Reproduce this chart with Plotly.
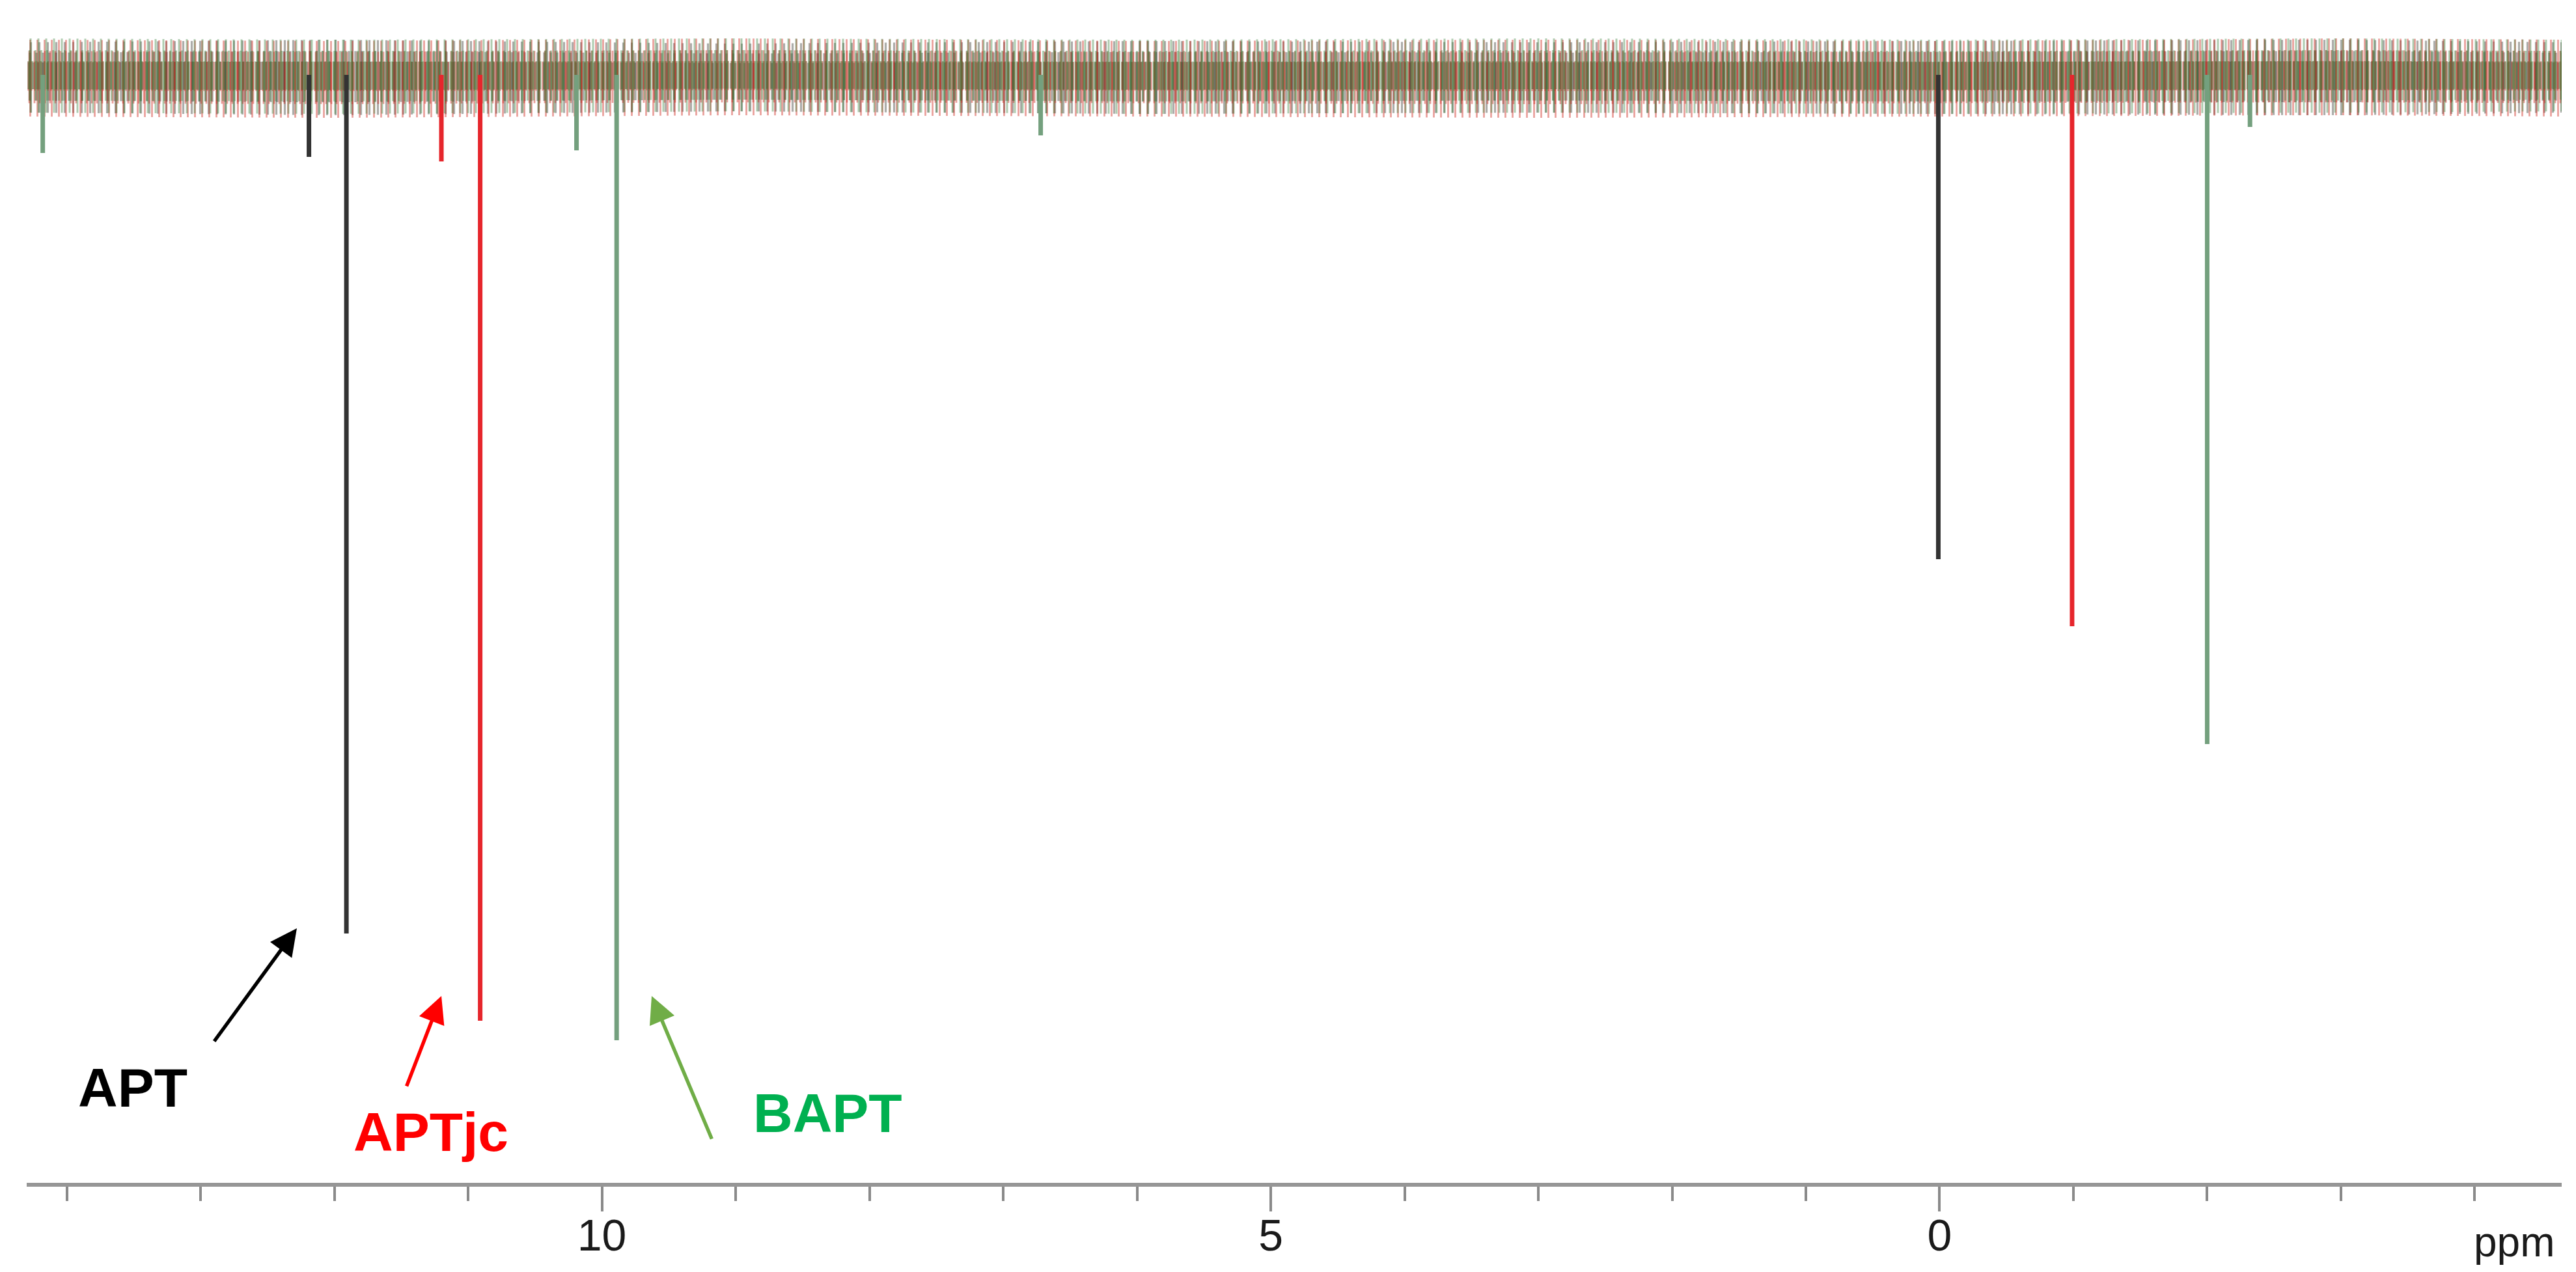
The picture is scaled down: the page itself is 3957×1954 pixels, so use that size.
import plotly.graph_objects as go

# ---------------- data ----------------
# x axis: chemical shift (ppm), drawn reversed
x_range = [14.30, -4.65]
major_tickvals = [10, 5, 0]
major_ticktext = ["10", "5", "0"]

# peaks of each spectrum: positions (ppm) and intensities (a.u., negative = down)
apt_ppm = [12.19, 11.91, 0.01]
apt_int = [-126, -1319, -744]

aptjc_ppm = [11.20, 10.91, -0.99]
aptjc_int = [-133, -1453, -847]

bapt_ppm = [14.18, 10.19, 9.89, 6.72, -2.00, -2.32]
bapt_int = [-120, -116, -1483, -93, -1028, -80]

# baseline-noise envelopes (ppm grid, upper / lower intensity) for each spectrum
noise_ppm = [14.30, 12.0, 9.0, 6.0, 3.0, 0.0, -3.0, -4.65]
apt_noise_hi = [50, 54, 48, 52, 50, 52, 54, 50]
apt_noise_lo = [-58, -62, -56, -60, -58, -60, -62, -58]
aptjc_noise_hi = [54, 52, 56, 52, 54, 52, 56, 54]
aptjc_noise_lo = [-64, -66, -62, -64, -66, -64, -62, -64]
bapt_noise_hi = [56, 54, 56, 54, 56, 54, 56, 54]
bapt_noise_lo = [-58, -60, -56, -60, -58, -60, -58, -56]

# ---------------- pixel calibration helpers (layout only) ----------------
W, H = 3957, 1954
PL, PR, PT, PB = 33, 30, 0, 145          # plot-area margins
plot_w = W - PL - PR
plot_h = H - PT - PB


def xpaper(px):
    return (px - PL) / plot_w


def ypaper(py):
    return (H - PB - py) / plot_h


fig = go.Figure()

series = [
    ("APT", apt_ppm, apt_int, apt_noise_hi, apt_noise_lo,
     "rgba(20,20,10,0.70)", "#333333", 9),
    ("APTjc", aptjc_ppm, aptjc_int, aptjc_noise_hi, aptjc_noise_lo,
     "rgba(205,30,20,0.85)", "#e6262c", 7),
    ("BAPT", bapt_ppm, bapt_int, bapt_noise_hi, bapt_noise_lo,
     "rgba(55,130,60,0.80)", "#74a07e", 8),
]

# noise bands: vertical-stripe texture between the envelopes, three layers
layers = [(1.00, 4, 0.25), (0.68, 1, 0.35), (0.38, -2, 0.50)]
for name, pp, ii, hi, lo, ncol, pcol, psize in series:
    for frac, dsize, sol in layers:
        up = [h * frac for h in hi]
        dn = [l * frac for l in lo]
        fig.add_trace(go.Scatter(
            x=noise_ppm + noise_ppm[::-1],
            y=up + dn[::-1],
            mode="lines", line=dict(width=0), fill="toself",
            fillcolor="rgba(0,0,0,0)",
            fillpattern=dict(shape="|", size=psize + dsize, solidity=sol,
                             fgcolor=ncol, bgcolor="rgba(0,0,0,0)"),
            hoverinfo="skip", showlegend=False))

# peaks
for name, pp, ii, hi, lo, ncol, pcol, psize in series:
    xs, ys = [], []
    for p, v in zip(pp, ii):
        xs += [p, p, None]
        ys += [0, v, None]
    fig.add_trace(go.Scatter(x=xs, y=ys, mode="lines", name=name,
                             line=dict(color=pcol, width=7),
                             showlegend=False))

# ---------------- annotations ----------------
font_fam = "Liberation Sans, Arial, sans-serif"
labels = [
    ("APT", 196, 1663, "#000000"),
    ("APTjc", 654, 1731, "#ff0000"),
    ("BAPT", 1263, 1702, "#00b050"),
]
for txt, cx, cy, col in labels:
    fig.add_annotation(x=xpaper(cx), y=ypaper(cy), xref="paper", yref="paper",
                       text=txt, showarrow=False, xanchor="center",
                       yanchor="middle",
                       font=dict(family=font_fam, size=84, color=col,
                                 weight="bold"))

arrows = [
    ((448, 1418), (320, 1593), "#000000"),
    ((670, 1522), (616, 1662), "#ff0000"),
    ((993, 1522), (1086, 1743), "#70ad47"),
]
for (tx, ty), (sx, sy), col in arrows:
    fig.add_annotation(x=xpaper(tx), y=ypaper(ty), xref="paper", yref="paper",
                       ax=sx - tx, ay=sy - ty, axref="pixel", ayref="pixel",
                       text="", showarrow=True, arrowhead=2, arrowsize=1.5,
                       arrowwidth=5.5, arrowcolor=col, standoff=0)

fig.add_annotation(x=xpaper(3854), y=ypaper(1862), xref="paper", yref="paper",
                   text="ppm", showarrow=False, xanchor="center",
                   yanchor="top",
                   font=dict(family=font_fam, size=64, color="#1a1a1a"))

fig.update_layout(
    width=W, height=H,
    margin=dict(l=PL, r=PR, t=PT, b=PB, pad=0),
    paper_bgcolor="white", plot_bgcolor="white",
    showlegend=False,
    xaxis=dict(range=x_range, showgrid=False, zeroline=False,
               showline=True, linecolor="#969696", linewidth=6,
               ticks="outside", tickvals=major_tickvals,
               ticktext=major_ticktext, ticklen=38, tickwidth=4,
               tickcolor="#8a8a8a", ticklabelstandoff=-22,
               tickfont=dict(family=font_fam, size=68, color="#1a1a1a"),
               minor=dict(tickmode="linear", tick0=0, dtick=1, ticks="outside",
                          ticklen=22, tickwidth=4, tickcolor="#8a8a8a")),
    yaxis=dict(visible=False, range=[-1702, 107]),
)

fig.write_html("out.html")
